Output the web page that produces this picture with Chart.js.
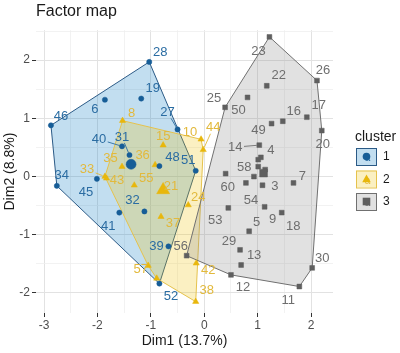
<!DOCTYPE html>
<html><head><meta charset="utf-8">
<script src="https://cdn.jsdelivr.net/npm/chart.js@4.4.1/dist/chart.umd.min.js"></script>
<style>html,body{margin:0;padding:0;background:#fff}#wrap{width:400px;height:353px;position:relative}</style>
</head><body><div id="wrap"><canvas id="c"></canvas></div>
<script>
// ---------- data ----------
const clusterNames = ['1', '2', '3'];
const c1Labels = ['28','6','19','46','27','40','31','34','45','41','32','39','52','51','48'];
const c1X = [-1.03,-1.86,-1.18,-2.87,-0.50,-1.54,-1.40,-2.76,-2.01,-1.59,-1.12,-0.67,-0.84,-0.16,-0.84];
const c1Y = [1.97,1.32,1.34,0.88,0.81,0.52,0.37,-0.16,-0.04,-0.62,-0.60,-1.20,-1.84,0.10,0.18];
const c2Labels = ['8','10','44','15','35','33','43','36','55','21','24','37','57','42','38','47'];
const c2X = [-1.53,-0.06,-0.02,-0.77,-1.54,-1.86,-1.83,-0.92,-1.31,-0.79,-0.30,-0.81,-1.05,-0.15,-0.16,-0.89];
const c2Y = [0.96,0.64,0.46,0.54,0.17,0.00,-0.03,0.20,-0.15,-0.22,-0.49,-0.69,-1.53,-1.49,-2.15,-1.75];
const c3Labels = ['23','26','22','25','50','16','17','20','49','14','4','58','60','3','7','54','9','18','53','5','29','13','12','11','30','56','59','1','2'];
const c3X = [1.22,2.11,1.17,0.39,0.81,1.47,1.92,2.20,1.26,1.03,1.06,1.01,0.40,1.09,1.67,0.78,1.13,1.45,0.45,0.84,0.67,0.69,0.50,1.78,2.02,-0.33,1.01,1.14,0.93];
const c3Y = [2.40,1.65,1.56,1.19,1.36,0.95,1.02,0.79,0.91,0.54,0.33,0.17,0.05,-0.15,-0.11,-0.11,-0.52,-0.62,-0.54,-0.94,-1.26,-1.52,-1.69,-1.89,-1.57,-1.36,0.29,0.12,0.00];
const centerX = [-1.37, -0.77, 1.11];
const centerY = [0.21, -0.23, 0.06];
const xTickValues = [-3,-2.5,-2,-1.5,-1,-0.5,0,0.5,1,1.5,2];
const yTickValues = [-2,-1.5,-1,-0.5,0,0.5,1,1.5,2,2.5];
const xTitle = 'Dim1 (13.7%)';
const yTitle = 'Dim2 (8.8%)';
const chartTitle = 'Factor map';
const legendTitle = 'cluster';

// ---------- styling / label placement (not data) ----------
const hiddenLabels = ['47','59','1','2'];
const labelOffsets = {
  '28':[11,-9.5],'6':[-10,10],'19':[11.5,-10],'46':[10,-9],'27':[-10,-17],'40':[-23,-7],'31':[-7.6,-18],
  '34':[5,-10],'45':[-11,14],'41':[-11,14],'32':[-12,-11],'39':[-12,0],'52':[11.5,13],'51':[-7.5,-10.5],'48':[13,-9],
  '8':[9,-7],'10':[-11,-7],'44':[10,-22],'15':[0,-9],'35':[-11.5,-8],'33':[-18,-7],'43':[10.5,2.6],'36':[-12.5,-9],
  '55':[12,-7],'21':[9,-3],'24':[10,-7.5],'37':[12,7],'57':[-7.5,3.5],'42':[12,7.5],'38':[11,-11],
  '23':[-11,15],'26':[6,-10],'22':[12,-10],'25':[-11,-9],'50':[-9,13],'16':[11,-10],'17':[12,-12],'20':[1,14],
  '49':[-13,6.5],'14':[-24,2],'4':[10,-7],'58':[-14,1],'60':[2,13.5],'3':[12.5,1],'7':[9,-7],'54':[5,17],
  '9':[8,13],'18':[11.5,13.5],'53':[-13,12],'5':[7.5,-9],'29':[-11,-8],'13':[13,-10],'12':[12,13],'11':[-11,14],
  '30':[10,-9],'56':[-6,-9.5]
};
const segmentLabels = ['27','40','31','44','33','14'];
const pointColors = ['#165d97', '#e8b70c', '#5f5f5f'];
const textColors = ['#2a6ca2', '#e2b93c', '#6e6e6e'];
const hullLineColors = ['#2b5a86', '#e5c24c', '#707070'];
const hullFillColors = ['rgba(0,115,194,0.24)', 'rgba(239,192,0,0.24)', 'rgba(134,134,134,0.25)'];
const pointStyles = ['circle', 'triangle', 'rect'];
const pointRadii = [2.6, 3.6, 3.4];
const centerRadii = [5, 7.5, 5.5];
const FONT = '"Liberation Sans", Arial, Helvetica, sans-serif';

// ---------- build ----------
const clusters = [
  {labels: c1Labels, xs: c1X, ys: c1Y},
  {labels: c2Labels, xs: c2X, ys: c2Y},
  {labels: c3Labels, xs: c3X, ys: c3Y}
];
function convexHull(xs, ys) {
  const pts = xs.map((x, i) => ({x, y: ys[i]})).sort((a, b) => a.x - b.x || a.y - b.y);
  const cross = (o, a, b) => (a.x - o.x) * (b.y - o.y) - (a.y - o.y) * (b.x - o.x);
  const lower = [];
  for (const p of pts) { while (lower.length >= 2 && cross(lower[lower.length-2], lower[lower.length-1], p) <= 0) lower.pop(); lower.push(p); }
  const upper = [];
  for (const p of pts.slice().reverse()) { while (upper.length >= 2 && cross(upper[upper.length-2], upper[upper.length-1], p) <= 0) upper.pop(); upper.push(p); }
  upper.pop(); lower.pop();
  const h = lower.concat(upper);
  h.push({x: h[0].x, y: h[0].y});
  return h;
}
const datasets = [];
clusters.forEach((c, i) => {
  datasets.push({
    label: 'pts' + clusterNames[i],
    data: c.xs.map((x, j) => ({x, y: c.ys[j]})),
    pointStyle: pointStyles[i], pointRadius: pointRadii[i], pointHoverRadius: pointRadii[i],
    backgroundColor: pointColors[i], borderColor: pointColors[i], borderWidth: 0.5,
    order: 2
  });
});
clusters.forEach((c, i) => {
  datasets.push({
    label: 'center' + clusterNames[i],
    data: [{x: centerX[i], y: centerY[i]}],
    pointStyle: pointStyles[i], pointRadius: centerRadii[i], pointHoverRadius: centerRadii[i],
    backgroundColor: pointColors[i], borderColor: pointColors[i], borderWidth: 0.5,
    order: 1
  });
});
clusters.forEach((c, i) => {
  datasets.push({
    label: 'hull' + clusterNames[i],
    data: convexHull(c.xs, c.ys),
    showLine: true, fill: 'shape', tension: 0,
    borderColor: hullLineColors[i], borderWidth: 1,
    backgroundColor: hullFillColors[i],
    pointRadius: 0, pointHoverRadius: 0,
    order: 5 - i
  });
});

const labelPlugin = {
  id: 'pointLabels',
  afterDatasetsDraw(chart) {
    const ctx = chart.ctx;
    ctx.save();
    ctx.font = '13px ' + FONT;
    ctx.textAlign = 'center';
    ctx.textBaseline = 'middle';
    clusters.forEach((c, ci) => {
      const meta = chart.getDatasetMeta(ci);
      c.labels.forEach((lab, j) => {
        if (hiddenLabels.includes(lab)) return;
        const off = labelOffsets[lab];
        if (!off) return;
        const el = meta.data[j];
        const px = el.x, py = el.y;
        const lx = px + off[0], ly = py + off[1];
        if (segmentLabels.includes(lab)) {
          const hw = ctx.measureText(lab).width / 2 + 1.5, hh = 6;
          const dx = off[0], dy = off[1];
          const t = Math.min(dx === 0 ? Infinity : hw / Math.abs(dx), dy === 0 ? Infinity : hh / Math.abs(dy));
          const ex = lx - dx * t, ey = ly - dy * t;
          const len = Math.hypot(dx, dy);
          const sx = px + dx / len * 2.5, sy = py + dy / len * 2.5;
          if (Math.hypot(ex - px, ey - py) > 3) {
            ctx.strokeStyle = textColors[ci];
            ctx.lineWidth = 0.9;
            ctx.beginPath(); ctx.moveTo(sx, sy); ctx.lineTo(ex, ey); ctx.stroke();
          }
        }
        ctx.fillStyle = textColors[ci];
        ctx.fillText(lab, lx, ly);
      });
    });
    ctx.restore();
  }
};

function drawShape(ctx, style, x, y, r, color) {
  ctx.fillStyle = color;
  ctx.beginPath();
  if (style === 'circle') { ctx.arc(x, y, r, 0, Math.PI * 2); }
  else if (style === 'triangle') {
    ctx.moveTo(x, y - r); ctx.lineTo(x + r * 0.95, y + r * 0.7); ctx.lineTo(x - r * 0.95, y + r * 0.7); ctx.closePath();
  } else { ctx.rect(x - r, y - r, 2 * r, 2 * r); }
  ctx.fill();
}

const legendPlugin = {
  id: 'clusterLegend',
  afterDraw(chart) {
    const ctx = chart.ctx;
    const area = chart.chartArea;
    const x0 = area.right + 23;
    ctx.save();
    ctx.font = '14px ' + FONT;
    ctx.fillStyle = '#1a1a1a';
    ctx.textAlign = 'left';
    ctx.textBaseline = 'middle';
    ctx.fillText(legendTitle, x0 - 1, 137);
    clusterNames.forEach((name, i) => {
      const y = 148 + i * 22.5;
      ctx.fillStyle = '#fff';
      ctx.fillRect(x0, y, 20, 17);
      ctx.fillStyle = hullFillColors[i];
      ctx.fillRect(x0, y, 20, 17);
      ctx.strokeStyle = hullLineColors[i];
      ctx.lineWidth = 1;
      ctx.strokeRect(x0 + 0.5, y + 0.5, 20, 17);
      ctx.font = '10px ' + FONT;
      ctx.fillStyle = textColors[i];
      ctx.textAlign = 'center';
      ctx.fillText('a', x0 + 11.5, y + 10.5);
      drawShape(ctx, pointStyles[i], x0 + 10.5, y + 8.5, i === 1 ? 4.5 : 3.8, pointColors[i]);
      ctx.font = '12px ' + FONT;
      ctx.fillStyle = '#1a1a1a';
      ctx.textAlign = 'left';
      ctx.fillText(name, x0 + 27, y + 9);
    });
    ctx.restore();
  }
};

const isMajor = v => Math.abs(v - Math.round(v)) < 1e-9;

new Chart(document.getElementById('c'), {
  type: 'scatter',
  data: {datasets},
  plugins: [labelPlugin, legendPlugin],
  options: {
    responsive: true, maintainAspectRatio: false, animation: false,
    layout: {padding: {left: 0, right: 67, top: 0, bottom: 0}},
    plugins: {
      legend: {display: false},
      tooltip: {enabled: false},
      title: {display: true, text: chartTitle, align: 'start', fullSize: false,
        font: {family: FONT, size: 16, weight: 'normal'}, color: '#1a1a1a',
        padding: {top: 2, bottom: 9}}
    },
    scales: {
      x: {
        type: 'linear', min: -3.15, max: 2.41,
        afterBuildTicks: axis => { axis.ticks = xTickValues.map(v => ({value: v})); },
        afterFit: s => { s.height = 40; },
        border: {display: false},
        grid: {
          color: c => isMajor(c.tick.value) ? '#e2e2e2' : '#efefef',
          lineWidth: c => isMajor(c.tick.value) ? 1 : 0.8,
          drawTicks: true, tickLength: 4, tickWidth: 1,
          tickColor: c => isMajor(c.tick.value) ? '#333333' : 'rgba(0,0,0,0)'
        },
        ticks: {autoSkip: false, maxRotation: 0, padding: 1, color: '#4d4d4d',
          font: {family: FONT, size: 12},
          callback: v => isMajor(v) ? String(Math.round(v)) : ''},
        title: {display: true, text: xTitle, color: '#1a1a1a', font: {family: FONT, size: 14},
          padding: {top: 0, bottom: 3}}
      },
      y: {
        type: 'linear', min: -2.345, max: 2.515,
        afterBuildTicks: axis => { axis.ticks = yTickValues.map(v => ({value: v})); },
        afterFit: s => { s.width = 36; },
        border: {display: false},
        grid: {
          color: c => isMajor(c.tick.value) ? '#e2e2e2' : '#efefef',
          lineWidth: c => isMajor(c.tick.value) ? 1 : 0.8,
          drawTicks: true, tickLength: 4, tickWidth: 1,
          tickColor: c => isMajor(c.tick.value) ? '#333333' : 'rgba(0,0,0,0)'
        },
        ticks: {autoSkip: false, padding: 2, color: '#4d4d4d',
          font: {family: FONT, size: 12},
          callback: v => isMajor(v) ? String(Math.round(v)) : ''},
        title: {display: true, text: yTitle, color: '#1a1a1a', font: {family: FONT, size: 14},
          padding: {top: 2, bottom: 0}}
      }
    }
  }
});
</script></body></html>
